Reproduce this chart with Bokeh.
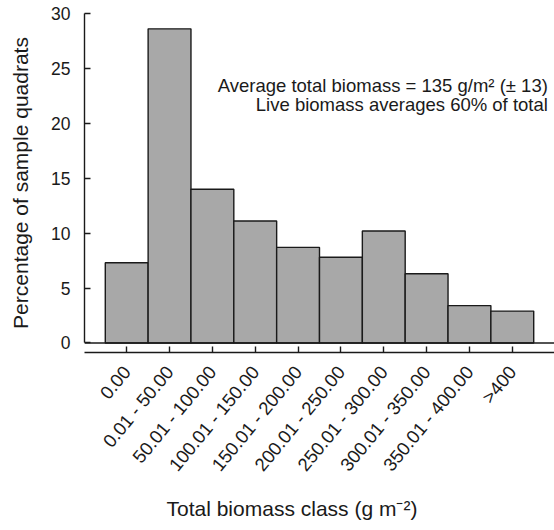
import math
from bokeh.plotting import figure
from bokeh.models import Range1d, FixedTicker, Span, Label, Title
from bokeh.embed import file_html
from bokeh.resources import INLINE

categories = ["0.00", "0.01 - 50.00", "50.01 - 100.00", "100.01 - 150.00",
              "150.01 - 200.00", "200.01 - 250.00", "250.01 - 300.00",
              "300.01 - 350.00", "350.01 - 400.00", ">400"]
percentages = [7.3, 28.6, 14.0, 11.1, 8.7, 7.8, 10.2, 6.3, 3.4, 2.9]
y_ticks = [0, 5, 10, 15, 20, 25, 30]
note_line1 = "Average total biomass = 135 g/m\u00b2 (\u00b1 13)"
note_line2 = "Live biomass averages 60% of total"
x_title = "Total biomass class (g m\u207b\u00b2)"
y_title = "Percentage of sample quadrats"

FONT = "Liberation Sans"
TXT = "#1a1a1a"

idx = list(range(len(categories)))

p = figure(width=554, height=530, output_backend="svg", toolbar_location=None,
           x_range=Range1d(-0.985, len(categories) - 0.015),
           y_range=Range1d(-0.87, 30),
           min_border_left=84, min_border_right=0, min_border_top=13,
           min_border_bottom=178)
p.outline_line_color = None
p.grid.visible = False
p.background_fill_color = "white"
p.border_fill_color = "white"

p.vbar(x=idx, top=percentages, bottom=0, width=1.0,
       fill_color="#a8a8a8", line_color="#1a1a1a", line_width=1.4)

p.add_layout(Span(location=0, dimension="width", line_color="#1a1a1a", line_width=1.4))

# y axis
ya = p.yaxis[0]
ya.ticker = FixedTicker(ticks=y_ticks)
ya.bounds = (0, 30)
ya.major_tick_in = 6
ya.major_tick_out = 0
ya.minor_tick_line_color = None
ya.axis_line_color = "#1a1a1a"
ya.axis_line_width = 1.4
ya.major_tick_line_color = "#1a1a1a"
ya.major_tick_line_width = 1.4
ya.major_label_standoff = 14
ya.major_label_text_font = FONT
ya.major_label_text_font_size = "17.5px"
ya.major_label_text_color = TXT
ya.axis_label = y_title
ya.axis_label_text_font = FONT
ya.axis_label_text_font_size = "21px"
ya.axis_label_text_font_style = "normal"
ya.axis_label_text_color = TXT
ya.axis_label_standoff = 16

# x axis
xa = p.xaxis[0]
xa.ticker = FixedTicker(ticks=idx)
xa.major_label_overrides = {i: c for i, c in zip(idx, categories)}
xa.major_label_orientation = 0.88
xa.major_tick_in = 6
xa.major_tick_out = 0
xa.minor_tick_line_color = None
xa.axis_line_color = "#1a1a1a"
xa.axis_line_width = 1.4
xa.major_tick_line_color = "#1a1a1a"
xa.major_tick_line_width = 1.4
xa.major_label_standoff = 16
xa.major_label_text_font = FONT
xa.major_label_text_font_size = "18.5px"
xa.major_label_text_color = TXT

p.add_layout(Title(text=x_title, align="left", offset=82, standoff=21,
                   text_font=FONT, text_font_size="21px", text_font_style="normal",
                   text_color=TXT), "below")

p.add_layout(Label(x=9.83, y=23.47, text=note_line1, text_align="right",
                   text_baseline="alphabetic", text_font=FONT,
                   text_font_size="18.5px", text_color=TXT))
p.add_layout(Label(x=9.83, y=21.74, text=note_line2, text_align="right",
                   text_baseline="alphabetic", text_font=FONT,
                   text_font_size="18.5px", text_color=TXT))

open("out.html", "w").write(file_html(p, INLINE))
